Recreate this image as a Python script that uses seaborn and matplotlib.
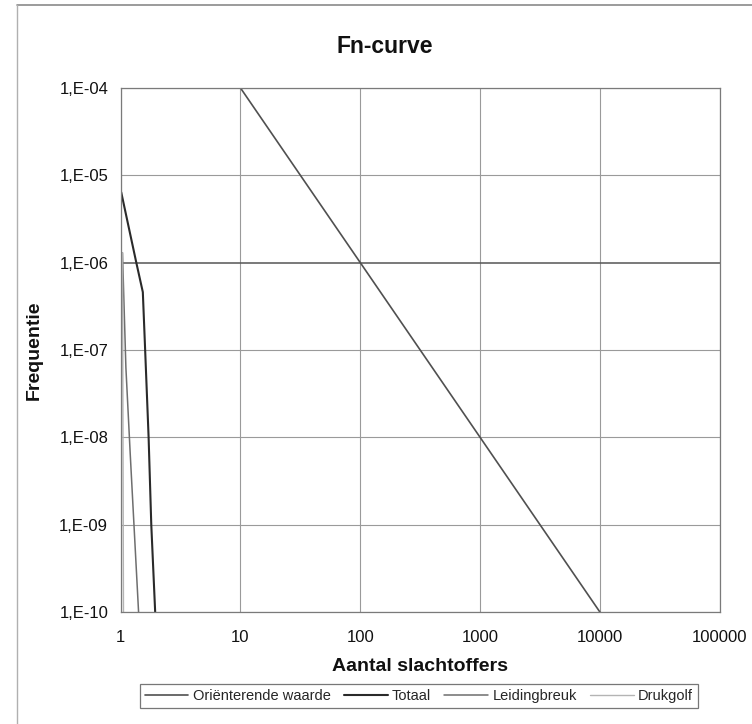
import matplotlib
matplotlib.use("Agg")
import matplotlib.pyplot as plt
import seaborn as sns
import pandas as pd
from matplotlib.lines import Line2D
from matplotlib.ticker import FixedLocator, FixedFormatter, NullLocator

# ---- data ----
orient_n = [10, 10000]
orient_f = [1e-4, 1e-10]

totaal_n = [1.01, 1.35, 1.53, 1.60, 1.71, 1.80, 1.94]
totaal_f = [6.4e-6, 1e-6, 4.6e-7, 1e-7, 1e-8, 1e-9, 1e-10]

leiding_n = [1.035, 1.105, 1.20, 1.41]
leiding_f = [1.3e-6, 6.3e-8, 6.6e-9, 1e-10]

drukgolf_n = [1.035, 1.055]
drukgolf_f = [1.3e-6, 1e-10]

series_names = ["Oriënterende waarde", "Totaal", "Leidingbreuk", "Drukgolf"]
x_ticks = [1, 10, 100, 1000, 10000, 100000]
x_labels = ["1", "10", "100", "1000", "10000", "100000"]
y_ticks = [1e-10, 1e-9, 1e-8, 1e-7, 1e-6, 1e-5, 1e-4]
y_labels = ["1,E-10", "1,E-09", "1,E-08", "1,E-07", "1,E-06", "1,E-05", "1,E-04"]

title = "Fn-curve"
xlabel = "Aantal slachtoffers"
ylabel = "Frequentie"

# ---- build frame ----
rows = []
for name, ns, fs in zip(series_names,
                        [orient_n, totaal_n, leiding_n, drukgolf_n],
                        [orient_f, totaal_f, leiding_f, drukgolf_f]):
    for i, (n, f) in enumerate(zip(ns, fs)):
        rows.append({"serie": name, "N": n, "F": f, "order": i})
df = pd.DataFrame(rows)

sns.set_theme(style="white")
plt.rcParams["font.family"] = ["Liberation Sans", "DejaVu Sans"]

colors = {"Oriënterende waarde": "#505050", "Totaal": "#2a2a2a",
          "Leidingbreuk": "#6e6e6e", "Drukgolf": "#b4b4b4"}
widths = {"Oriënterende waarde": 1.2, "Totaal": 1.5,
          "Leidingbreuk": 1.1, "Drukgolf": 1.0}

fig = plt.figure(figsize=(7.52, 7.24), dpi=100)
ax = fig.add_axes([0.1605, 0.1547, 0.7965, 0.7238])

for name in series_names:
    sub = df[df.serie == name]
    sns.lineplot(data=sub, x="N", y="F", ax=ax, sort=False, estimator=None,
                 color=colors[name], linewidth=widths[name], legend=False)

ax.set_xscale("log")
ax.set_yscale("log")
ax.set_xlim(1, 100000)
ax.set_ylim(1e-10, 1e-4)

ax.xaxis.set_major_locator(FixedLocator(x_ticks))
ax.xaxis.set_major_formatter(FixedFormatter(x_labels))
ax.xaxis.set_minor_locator(NullLocator())
ax.yaxis.set_major_locator(FixedLocator(y_ticks))
ax.yaxis.set_major_formatter(FixedFormatter(y_labels))
ax.yaxis.set_minor_locator(NullLocator())

ax.tick_params(axis="both", which="major", direction="out", length=5, width=0.8,
               color="#666666", labelsize=12, labelcolor="#111111", pad=4)
ax.tick_params(axis="x", pad=8)
ax.tick_params(axis="y", pad=4)

ax.grid(True, which="major", color="#9a9a9a", linewidth=0.8)
ax.set_axisbelow(True)
for i, gl in enumerate(ax.get_ygridlines()):
    if abs(y_ticks[i] - 1e-6) < 1e-12:
        gl.set_color("#555555")
        gl.set_linewidth(1.1)
for s in ax.spines.values():
    s.set_color("#7a7a7a")
    s.set_linewidth(0.9)

ax.set_xlabel(xlabel, fontsize=14, fontweight="bold", labelpad=9, color="#111111")
ax.set_ylabel(ylabel, fontsize=14, fontweight="bold", labelpad=12, color="#111111")
fig.text(0.512, 0.936, title, ha="center", va="center", fontsize=16.5,
         fontweight="bold", color="#111111")

handles = [Line2D([0], [0], color=colors[n], linewidth=widths[n]) for n in series_names]
leg = fig.legend(handles, series_names, loc="center", bbox_to_anchor=(0.557, 0.039),
                 ncol=4, frameon=True, fontsize=10.5, handlelength=3.0, handletextpad=0.3,
                 columnspacing=0.9, borderpad=0.35, fancybox=False)
leg.get_frame().set_edgecolor("#555555")
leg.get_frame().set_linewidth(0.9)

# outer chart frame (top and left)
fig.add_artist(Line2D([17 / 752, 1.0], [1 - 5 / 724, 1 - 5 / 724], transform=fig.transFigure,
                      color="#8a8a8a", linewidth=1.2))
fig.add_artist(Line2D([17 / 752, 17 / 752], [0, 1 - 5 / 724], transform=fig.transFigure,
                      color="#b0b0b0", linewidth=1.0))

fig.savefig("out.png", dpi=100, facecolor="white")
